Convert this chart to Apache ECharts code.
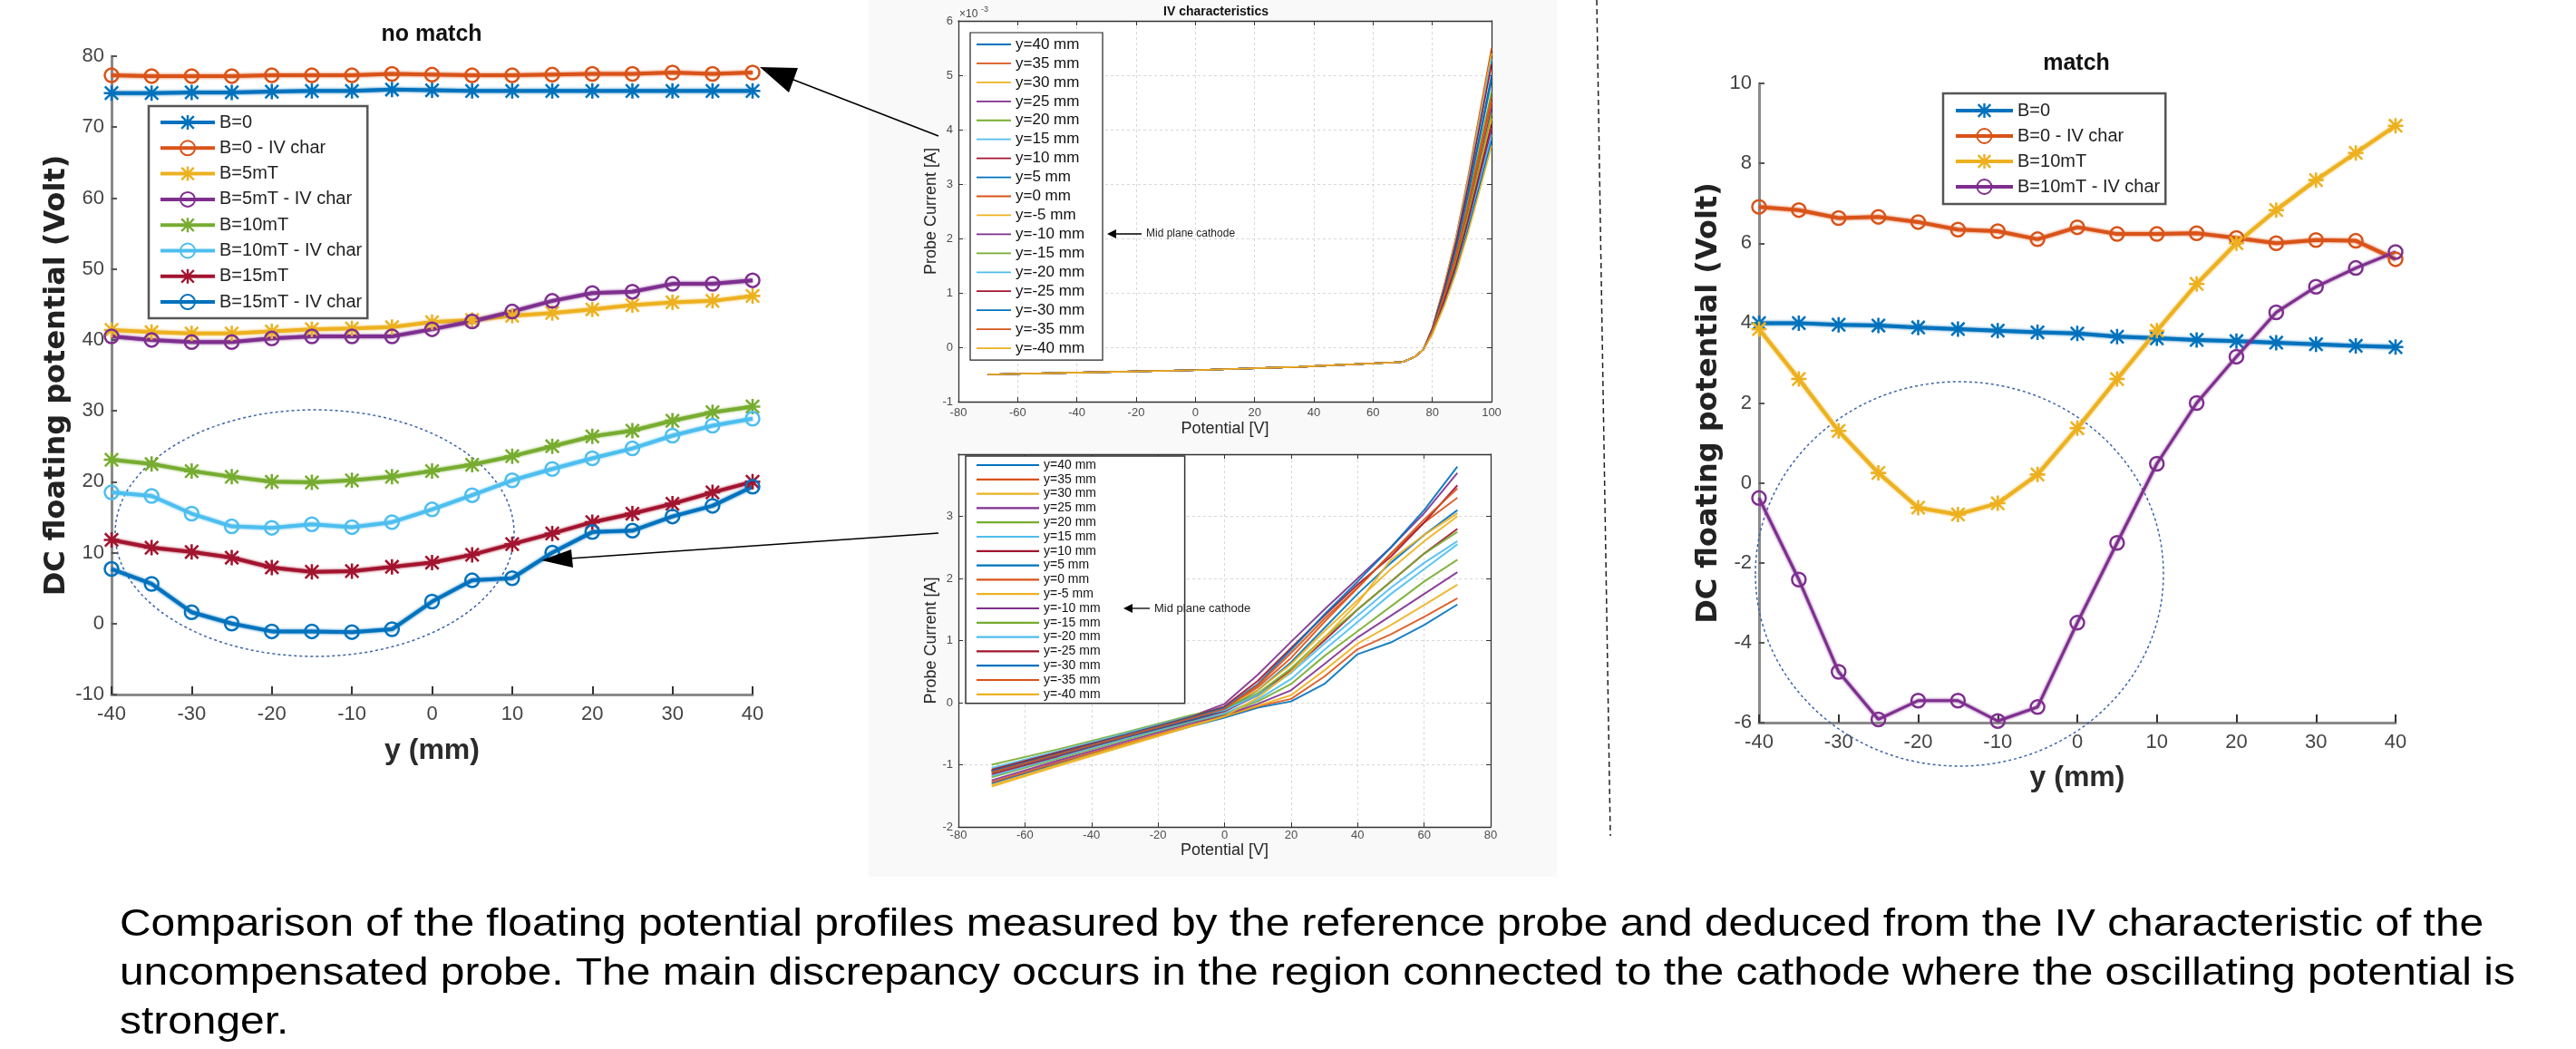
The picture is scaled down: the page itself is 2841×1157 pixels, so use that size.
<!DOCTYPE html>
<html lang="en">
<head>
<meta charset="UTF-8">
<title>Floating potential - match / no match</title>
<script src="https://cdn.jsdelivr.net/npm/echarts@6/dist/echarts.min.js"></script>
<style>
    html, body { margin: 0; padding: 0; background: #fff; }
    #main { width: 2841px; height: 1157px; }
</style>
</head>
<body>
<div id="main"></div>
<script>
// probe position along y (mm)
var yPos = [-40, -35, -30, -25, -20, -15, -10, -5, 0, 5, 10, 15, 20, 25, 30, 35, 40];

// left panel "no match"
var leftB0      = [74.8, 74.8, 74.9, 74.9, 75.0, 75.1, 75.1, 75.3, 75.2, 75.1, 75.1, 75.1, 75.1, 75.1, 75.1, 75.1, 75.1];
var leftB0IV    = [77.3, 77.2, 77.2, 77.2, 77.3, 77.3, 77.3, 77.5, 77.4, 77.3, 77.3, 77.4, 77.5, 77.5, 77.7, 77.5, 77.7];
var leftB5      = [41.4, 41.1, 40.9, 40.9, 41.2, 41.5, 41.6, 41.8, 42.5, 42.8, 43.4, 43.8, 44.3, 44.9, 45.3, 45.5, 46.2];
var leftB5IV    = [40.5, 40.0, 39.7, 39.7, 40.2, 40.5, 40.5, 40.5, 41.5, 42.6, 44.0, 45.5, 46.6, 46.8, 47.9, 47.9, 48.4];
var leftB10     = [23.1, 22.5, 21.5, 20.7, 20.0, 19.9, 20.2, 20.7, 21.5, 22.4, 23.6, 25.0, 26.4, 27.2, 28.6, 29.8, 30.6];
var leftB10IV   = [18.5, 18.0, 15.5, 13.7, 13.5, 14.0, 13.6, 14.3, 16.1, 18.1, 20.2, 21.8, 23.3, 24.7, 26.5, 27.9, 28.9];
var leftB15     = [11.8, 10.7, 10.1, 9.3, 7.9, 7.3, 7.4, 8.0, 8.6, 9.7, 11.2, 12.7, 14.3, 15.5, 16.9, 18.5, 20.0];
var leftB15IV   = [7.7, 5.6, 1.6, 0.0, -1.1, -1.1, -1.2, -0.8, 3.1, 6.1, 6.4, 10.0, 12.9, 13.1, 15.1, 16.6, 19.3];

// right panel "match"
var rightB0     = [4.0, 4.0, 3.96, 3.94, 3.89, 3.85, 3.81, 3.77, 3.74, 3.66, 3.62, 3.58, 3.55, 3.51, 3.47, 3.43, 3.40];
var rightB0IV   = [6.91, 6.83, 6.63, 6.66, 6.53, 6.34, 6.30, 6.10, 6.40, 6.23, 6.23, 6.25, 6.13, 6.0, 6.08, 6.06, 5.6];
var rightB10    = [3.85, 2.6, 1.3, 0.25, -0.62, -0.79, -0.51, 0.21, 1.37, 2.6, 3.81, 4.98, 6.0, 6.83, 7.58, 8.26, 8.94];
var rightB10IV  = [-0.38, -2.42, -4.73, -5.92, -5.45, -5.45, -5.96, -5.61, -3.5, -1.5, 0.48, 2.0, 3.16, 4.27, 4.91, 5.38, 5.78];

// IV curves, one per probe position
var ivNames = ['y=40 mm', 'y=35 mm', 'y=30 mm', 'y=25 mm', 'y=20 mm', 'y=15 mm', 'y=10 mm', 'y=5 mm', 'y=0 mm',
    'y=-5 mm', 'y=-10 mm', 'y=-15 mm', 'y=-20 mm', 'y=-25 mm', 'y=-30 mm', 'y=-35 mm', 'y=-40 mm'];

// upper IV plot (current in 1e-3 A)
var ivTopX   = [-70, -35, 0, 35, 70, 74, 77, 80, 84, 88, 92, 96, 100];
var ivTopLow = [-0.5, -0.46, -0.42, -0.36, -0.27, -0.18, -0.04];
var ivTopHigh = [
    [0.33, 1.03, 1.85, 2.83, 3.91, 5.0],
    [0.36, 1.14, 2.03, 3.11, 4.31, 5.5],
    [0.35, 1.12, 2.0, 3.05, 4.23, 5.4],
    [0.29, 0.91, 1.63, 2.49, 3.44, 4.4],
    [0.31, 0.97, 1.74, 2.66, 3.68, 4.7],
    [0.35, 1.09, 1.96, 3.0, 4.15, 5.3],
    [0.34, 1.07, 1.92, 2.94, 4.07, 5.2],
    [0.32, 1.01, 1.81, 2.77, 3.83, 4.9],
    [0.3, 0.95, 1.7, 2.6, 3.6, 4.6],
    [0.27, 0.87, 1.55, 2.37, 3.29, 4.2],
    [0.26, 0.83, 1.48, 2.26, 3.13, 4.0],
    [0.28, 0.89, 1.59, 2.43, 3.37, 4.3],
    [0.25, 0.81, 1.44, 2.2, 3.05, 3.9],
    [0.27, 0.85, 1.51, 2.32, 3.21, 4.1],
    [0.25, 0.78, 1.4, 2.15, 2.97, 3.8],
    [0.29, 0.93, 1.66, 2.54, 3.52, 4.5],
    [0.24, 0.76, 1.37, 2.09, 2.89, 3.7]
];

// lower IV plot (current in A)
var ivBotX = [-70, -50, -30, -10, 0, 10, 20, 30, 40, 50, 60, 70];
var ivBotY = [
    [-1.30, -0.98, -0.68, -0.38, -0.24, -0.08, 0.02, 0.30, 0.78, 0.97, 1.25, 1.58],
    [-1.28, -0.96, -0.66, -0.36, -0.22, -0.06, 0.06, 0.42, 0.86, 1.10, 1.38, 1.68],
    [-1.33, -1.00, -0.68, -0.37, -0.22, -0.05, 0.12, 0.52, 0.95, 1.25, 1.57, 1.90],
    [-1.25, -0.93, -0.63, -0.33, -0.20, -0.02, 0.20, 0.62, 1.05, 1.40, 1.75, 2.10],
    [-1.20, -0.90, -0.60, -0.31, -0.18, 0.02, 0.30, 0.75, 1.15, 1.55, 1.95, 2.30],
    [-1.18, -0.88, -0.58, -0.30, -0.17, 0.05, 0.38, 0.85, 1.30, 1.75, 2.15, 2.55],
    [-1.15, -0.86, -0.56, -0.28, -0.14, 0.12, 0.52, 1.00, 1.50, 1.95, 2.40, 2.80],
    [-1.12, -0.84, -0.55, -0.27, -0.12, 0.20, 0.65, 1.20, 1.75, 2.25, 2.70, 3.10],
    [-1.10, -0.82, -0.53, -0.25, -0.10, 0.25, 0.72, 1.30, 1.85, 2.40, 2.90, 3.30],
    [-1.08, -0.80, -0.52, -0.24, -0.08, 0.20, 0.62, 1.15, 1.65, 2.15, 2.60, 3.00],
    [-1.10, -0.82, -0.53, -0.22, -0.02, 0.45, 0.98, 1.50, 2.00, 2.50, 3.05, 3.70],
    [-1.00, -0.75, -0.48, -0.20, -0.10, 0.15, 0.55, 1.05, 1.50, 1.95, 2.40, 2.75],
    [-1.05, -0.78, -0.50, -0.22, -0.12, 0.12, 0.48, 0.95, 1.40, 1.85, 2.25, 2.60],
    [-1.08, -0.80, -0.52, -0.23, -0.06, 0.35, 0.88, 1.40, 1.90, 2.35, 2.90, 3.50],
    [-1.10, -0.82, -0.53, -0.24, -0.08, 0.30, 0.85, 1.42, 1.95, 2.50, 3.10, 3.80],
    [-1.12, -0.83, -0.54, -0.25, -0.10, 0.28, 0.80, 1.35, 1.85, 2.40, 2.95, 3.45],
    [-1.35, -1.02, -0.70, -0.38, -0.22, 0.08, 0.50, 1.05, 1.60, 2.30, 2.70, 3.05]
];

var caption = [
    'Comparison of the floating potential profiles measured by the reference probe and deduced from the IV characteristic of the',
    'uncompensated probe. The main discrepancy occurs in the region connected to the cathode where the oscillating potential is',
    'stronger.'
];

var matlab = ['#0072BD', '#D95319', '#EDB120', '#7E2F8E', '#77AC30', '#4DBEEE', '#A2142F'];
var starSym = 'path://M8.5 0H11.5V20H8.5Z M0 8.5H20V11.5H0Z M0.44 2.56L2.56 0.44L19.56 17.44L17.44 19.56Z M17.44 0.44L19.56 2.56L2.56 19.56L0.44 17.44Z';
var sans = '"Liberation Sans", Arial, sans-serif';

function pairs(xs, ys) {
    return xs.map(function (x, i) { return [x, ys[i]]; });
}

function profile(name, ys, color, star, gi, width) {
    return {
        type: 'line', name: name, xAxisIndex: gi, yAxisIndex: gi,
        data: pairs(yPos, ys),
        symbol: star ? starSym : 'circle',
        symbolSize: star ? 17 : 15,
        itemStyle: star ? { color: color } : { color: 'rgba(255,255,255,0)', borderColor: color, borderWidth: 2.5 },
        lineStyle: { color: color, width: width || 4, shadowColor: color, shadowBlur: 3 },
        emphasis: { disabled: true },
        z: 3
    };
}

var series = [
    profile('B=0#l', leftB0, matlab[0], true, 0),
    profile('B=0 - IV char#l', leftB0IV, matlab[1], false, 0),
    profile('B=5mT#l', leftB5, matlab[2], true, 0),
    profile('B=5mT - IV char#l', leftB5IV, matlab[3], false, 0),
    profile('B=10mT#l', leftB10, matlab[4], true, 0),
    profile('B=10mT - IV char#l', leftB10IV, matlab[5], false, 0),
    profile('B=15mT#l', leftB15, matlab[6], true, 0),
    profile('B=15mT - IV char#l', leftB15IV, matlab[0], false, 0),
    profile('B=0#r', rightB0, matlab[0], true, 1),
    profile('B=0 - IV char#r', rightB0IV, matlab[1], false, 1),
    profile('B=10mT#r', rightB10, matlab[2], true, 1),
    profile('B=10mT - IV char#r', rightB10IV, matlab[3], false, 1, 3)
];

ivNames.forEach(function (n, k) {
    var c = matlab[k % 7];
    series.push({
        type: 'line', name: n + '#t', xAxisIndex: 2, yAxisIndex: 2,
        data: pairs(ivTopX, ivTopLow.concat(ivTopHigh[k])),
        showSymbol: false, symbol: 'none',
        itemStyle: { color: c },
        lineStyle: { color: c, width: 1.6 },
        emphasis: { disabled: true }
    });
});
ivNames.forEach(function (n, k) {
    var c = matlab[k % 7];
    series.push({
        type: 'line', name: n + '#b', xAxisIndex: 3, yAxisIndex: 3,
        data: pairs(ivBotX, ivBotY[k]),
        showSymbol: false, symbol: 'none',
        itemStyle: { color: c },
        lineStyle: { color: c, width: 2, opacity: 0.9 },
        emphasis: { disabled: true }
    });
});

function names(list, tag) {
    return list.map(function (n) { return n + tag; });
}
function strip(name) { return name.split('#')[0]; }

// profile panels: matlab style, box off
function profX(gi, gap) {
    return {
        type: 'value', gridIndex: gi, min: -40, max: 40, interval: 10,
        name: 'y (mm)', nameLocation: 'middle', nameGap: gap,
        nameTextStyle: { fontFamily: sans, fontSize: 32, fontWeight: 'bold', color: '#2b2b2b' },
        axisLine: { onZero: false, lineStyle: { color: '#8a8a8a', width: 3 } },
        axisTick: { inside: true, length: 9, lineStyle: { color: '#333', width: 2 } },
        axisLabel: { fontFamily: sans, fontSize: 22, color: '#444', margin: 11 },
        splitLine: { show: false }
    };
}
function profY(gi, min, max, step, gap) {
    return {
        type: 'value', gridIndex: gi, min: min, max: max, interval: step,
        name: 'DC floating potential (Volt)', nameLocation: 'middle', nameGap: gap,
        nameTextStyle: { fontFamily: '"DejaVu Sans", sans-serif', fontSize: 32, fontWeight: 'bold', color: '#222' },
        axisLine: { show: true, onZero: false, lineStyle: { color: '#8a8a8a', width: 3 } },
        axisTick: { show: true, inside: true, length: 6, lineStyle: { color: '#555', width: 2 } },
        axisLabel: { fontFamily: sans, fontSize: 22, color: '#444', margin: 8 },
        splitLine: { show: false }
    };
}
// IV panels: box on, dotted grid
function ivX(gi, max, gap, margin) {
    return {
        type: 'value', gridIndex: gi, min: -80, max: max, interval: 20,
        name: 'Potential [V]', nameLocation: 'middle', nameGap: gap,
        nameTextStyle: { fontFamily: sans, fontSize: 18, color: '#262626' },
        axisLine: { onZero: false, lineStyle: { color: '#333', width: 1.3 } },
        axisTick: { inside: true, length: 5, lineStyle: { color: '#333' } },
        axisLabel: { fontFamily: sans, fontSize: 13, color: '#4d4d4d', margin: margin },
        splitLine: { show: true, lineStyle: { color: '#d8d8d8', type: [3, 3] } }
    };
}
function ivY(gi, min, max, showMax) {
    return {
        type: 'value', gridIndex: gi, min: min, max: max, interval: 1,
        name: 'Probe Current [A]', nameLocation: 'middle', nameGap: 20,
        nameTextStyle: { fontFamily: sans, fontSize: 18, color: '#262626' },
        axisLine: { show: true, onZero: false, lineStyle: { color: '#333', width: 1.3 } },
        axisTick: { show: true, inside: true, length: 5, lineStyle: { color: '#333' } },
        axisLabel: { fontFamily: sans, fontSize: 13, color: '#4d4d4d', margin: 6, showMaxLabel: showMax },
        splitLine: { show: true, lineStyle: { color: '#d8d8d8', type: [3, 3] } }
    };
}
function boxAxis(kind, gi, min, max, step) {
    return {
        type: 'value', gridIndex: gi, min: min, max: max, interval: step,
        position: kind === 'x' ? 'top' : 'right',
        axisLine: { show: true, onZero: false, lineStyle: { color: '#333', width: 1.3 } },
        axisTick: { show: true, inside: true, length: 5, lineStyle: { color: '#333' } },
        axisLabel: { show: false },
        splitLine: { show: false }
    };
}

function legendBox(opt) {
    return Object.assign({
        orient: 'vertical', selectedMode: false, backgroundColor: '#fff', formatter: strip
    }, opt);
}

var chart = echarts.init(document.getElementById('main'));
chart.setOption({
    backgroundColor: '#fff',
    animation: false,
    grid: [
        { left: 123, top: 62, width: 707, height: 704 },
        { left: 1940, top: 92, width: 702, height: 705 },
        { left: 1057, top: 23, width: 588, height: 420, show: true, backgroundColor: '#fff', borderWidth: 0 },
        { left: 1057, top: 501, width: 587, height: 411, show: true, backgroundColor: '#fff', borderWidth: 0 }
    ],
    xAxis: [
        profX(0, 46), profX(1, 45),
        ivX(2, 100, 21, 6), ivX(3, 80, 14, 3),
        boxAxis('x', 2, -80, 100, 20), boxAxis('x', 3, -80, 80, 20)
    ],
    yAxis: [
        profY(0, -10, 80, 10, 44), profY(1, -6, 10, 2, 39),
        ivY(2, -1, 6, true), ivY(3, -2, 4, false),
        boxAxis('y', 2, -1, 6, 1), boxAxis('y', 3, -2, 4, 1)
    ],
    legend: [
        legendBox({
            data: names(['B=0', 'B=0 - IV char', 'B=5mT', 'B=5mT - IV char', 'B=10mT', 'B=10mT - IV char', 'B=15mT', 'B=15mT - IV char'], '#l'),
            left: 164, top: 117, padding: [7, 6, 7, 11], itemWidth: 60, itemHeight: 20, itemGap: 6.3,
            borderColor: '#555', borderWidth: 2.5, lineStyle: { width: 4 },
            textStyle: { fontFamily: sans, fontSize: 20, lineHeight: 22, color: '#222' }
        }),
        legendBox({
            data: names(['B=0', 'B=0 - IV char', 'B=10mT', 'B=10mT - IV char'], '#r'),
            left: 2143, top: 103, padding: [8, 6, 8, 12], itemWidth: 63, itemHeight: 20, itemGap: 6,
            borderColor: '#555', borderWidth: 2.5, lineStyle: { width: 4 },
            textStyle: { fontFamily: sans, fontSize: 20, lineHeight: 22, color: '#222' }
        }),
        legendBox({
            data: names(ivNames, '#t'),
            left: 1070, top: 36, padding: [4, 20, 4, 7], itemWidth: 38, itemHeight: 1.8, itemGap: 2.94,
            icon: 'rect', borderColor: '#222', borderWidth: 1.2,
            textStyle: { fontFamily: sans, fontSize: 17, lineHeight: 18, color: '#111' }
        }),
        legendBox({
            data: names(ivNames, '#b'),
            left: 1065, top: 503, padding: [3, 93, 3, 12], itemWidth: 69, itemHeight: 2.2, itemGap: 1.8,
            icon: 'rect', borderColor: '#333', borderWidth: 1.5,
            textStyle: { fontFamily: sans, fontSize: 14, lineHeight: 14, color: '#111' }
        })
    ],
    series: series,
    graphic: [
        // light panel behind the two IV plots
        { type: 'rect', z: -100, shape: { x: 958, y: 0, width: 759, height: 967 }, style: { fill: '#f9f9f9' } },
        // separator
        { type: 'line', z: 5, shape: { x1: 1761, y1: 0, x2: 1776, y2: 922 }, style: { stroke: '#222', lineWidth: 1.5, lineDash: [6, 4] } },
        // regions near the cathode
        { type: 'ellipse', z: 1, shape: { cx: 347, cy: 588, rx: 220, ry: 136 }, style: { fill: null, stroke: '#3b62a8', lineWidth: 1.5, lineDash: [3, 3] } },
        { type: 'ellipse', z: 1, shape: { cx: 2161, cy: 633, rx: 225, ry: 212 }, style: { fill: null, stroke: '#3b62a8', lineWidth: 1.5, lineDash: [3, 3] } },
        // arrows from IV plots to the profiles
        { type: 'line', z: 20, shape: { x1: 870, y1: 86, x2: 1035, y2: 150 }, style: { stroke: '#000', lineWidth: 1.6 } },
        { type: 'polygon', z: 20, shape: { points: [[838, 74], [880, 75], [870, 102]] }, style: { fill: '#000' } },
        { type: 'line', z: 20, shape: { x1: 628, y1: 616, x2: 1035, y2: 588 }, style: { stroke: '#000', lineWidth: 1.6 } },
        { type: 'polygon', z: 20, shape: { points: [[597, 618], [632, 626], [630, 606]] }, style: { fill: '#000' } },
        // mid plane cathode notes
        { type: 'line', z: 20, shape: { x1: 1259, y1: 258, x2: 1226, y2: 258 }, style: { stroke: '#000', lineWidth: 1.3 } },
        { type: 'polygon', z: 20, shape: { points: [[1221, 258], [1231, 253], [1231, 263]] }, style: { fill: '#000' } },
        { type: 'text', z: 20, style: { text: 'Mid plane cathode', x: 1264, y: 258, verticalAlign: 'middle', font: '12px ' + sans, fill: '#222' } },
        { type: 'line', z: 20, shape: { x1: 1268, y1: 671, x2: 1244, y2: 671 }, style: { stroke: '#000', lineWidth: 1.3 } },
        { type: 'polygon', z: 20, shape: { points: [[1239, 671], [1249, 666], [1249, 676]] }, style: { fill: '#000' } },
        { type: 'text', z: 20, style: { text: 'Mid plane cathode', x: 1273, y: 671, verticalAlign: 'middle', font: '13px ' + sans, fill: '#222' } },
        // exponent of the upper IV axis
        { type: 'text', z: 20, style: { text: '\u00d710', x: 1058, y: 16, verticalAlign: 'middle', font: '12px ' + sans, fill: '#444' } },
        { type: 'text', z: 20, style: { text: '-3', x: 1082, y: 11, verticalAlign: 'middle', font: '9px ' + sans, fill: '#444' } },
        // titles
        { type: 'text', z: 20, style: { text: 'no match', x: 476, y: 38, align: 'center', verticalAlign: 'middle', font: 'bold 25px ' + sans, fill: '#111' } },
        { type: 'text', z: 20, style: { text: 'match', x: 2290, y: 70, align: 'center', verticalAlign: 'middle', font: 'bold 25px ' + sans, fill: '#111' } },
        { type: 'text', z: 20, style: { text: 'IV characteristics', x: 1341, y: 13, align: 'center', verticalAlign: 'middle', font: 'bold 14px ' + sans, fill: '#111' } },
        // caption (slightly wide face, hence the horizontal stretch)
        { type: 'text', z: 20, x: 132, y: 1020, scaleX: 1.113, style: { text: caption[0], x: 0, y: 0, verticalAlign: 'middle', font: '43px ' + sans, fill: '#000' } },
        { type: 'text', z: 20, x: 132, y: 1074, scaleX: 1.113, style: { text: caption[1], x: 0, y: 0, verticalAlign: 'middle', font: '43px ' + sans, fill: '#000' } },
        { type: 'text', z: 20, x: 132, y: 1128, scaleX: 1.113, style: { text: caption[2], x: 0, y: 0, verticalAlign: 'middle', font: '43px ' + sans, fill: '#000' } }
    ]
});
</script>
</body>
</html>
